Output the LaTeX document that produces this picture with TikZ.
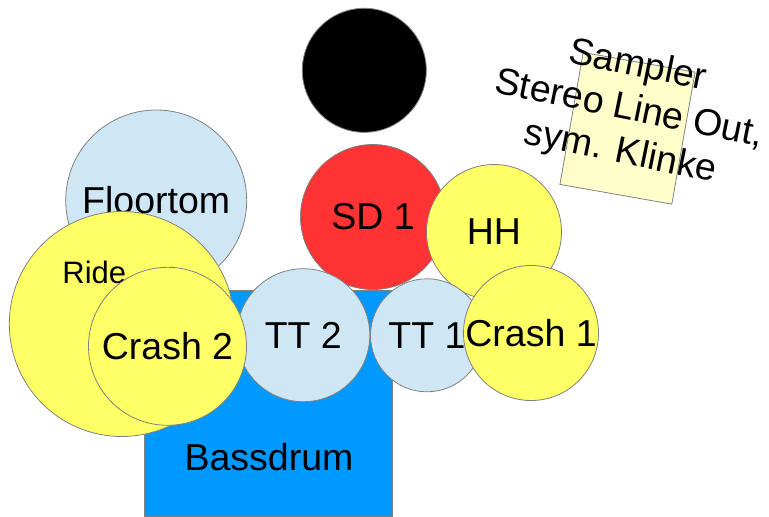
\documentclass[tikz,border=0pt]{standalone}
\usepackage{fontspec}
\setmainfont{Liberation Sans}
\usetikzlibrary{positioning}
\definecolor{kitgray}{HTML}{808080}
\definecolor{tomblue}{HTML}{CFE7F5}
\definecolor{snarered}{HTML}{FF3333}
\definecolor{cymbalyellow}{HTML}{FFFF66}
\definecolor{bassblue}{HTML}{0099FF}
\definecolor{samplercream}{HTML}{FFFFCC}
\newcommand{\kitfont}{\fontsize{37.5}{44}\selectfont}

\begin{document}
\begin{tikzpicture}[x=1pt, y=-1pt,
        drum/.style={circle, draw=kitgray, line width=0.8pt, inner sep=0pt, font=\kitfont},
        tom/.style={drum, fill=tomblue},
        cymbal/.style={drum, fill=cymbalyellow}
    ]
      \useasboundingbox (0,0) rectangle (769,517);
      % stool and sampler
      \node[drum, fill=black, minimum size=124pt] (stool) at (364.3,70.3) {};
      \node[draw=kitgray, line width=0.8pt, fill=samplercream, rotate=-10,
            minimum width=113.6pt, minimum height=134pt, inner sep=0pt] (sampler) at (627.5,128.3) {};
      \node[rotate=-11.5, align=center, font=\kitfont, inner sep=0pt] (samplertext) at (629,110)
           {Sampler\\Stereo Line Out,\\sym. Klinke};
      % drums
      \node[tom, minimum size=181pt] (floortom) at (156.2,200.5) {Floortom};
      \node[drum, fill=snarered, minimum size=145pt] (sd) at (373,217) {SD 1};
      \node[cymbal, minimum size=135pt] (hh) at (494,232) {HH};
      \node[draw=kitgray, line width=0.8pt, fill=bassblue, minimum width=248.4pt,
            minimum height=225.3pt, inner sep=0pt] (bassdrum) at (268.5,403.4) {};
      \node[font=\kitfont, inner sep=0pt] (basstext) at (269,457.5) {Bassdrum};
      \node[tom, minimum size=133pt] (tt2) at (303.3,335.2) {TT 2};
      \node[tom, minimum size=113pt] (tt1) at (427,335.3) {TT 1};
      % cymbals
      \node[cymbal, minimum size=135pt] (crash1) at (531,333) {Crash 1};
      \node[cymbal, minimum size=225pt] (ride) at (121.8,324) {};
      \node[font=\fontsize{31}{37}\selectfont, inner sep=0pt] (ridetext) at (94.3,272) {Ride};
      \node[cymbal, minimum size=158pt] (crash2) at (167.5,346.3) {Crash 2};
    \end{tikzpicture}
\end{document}
